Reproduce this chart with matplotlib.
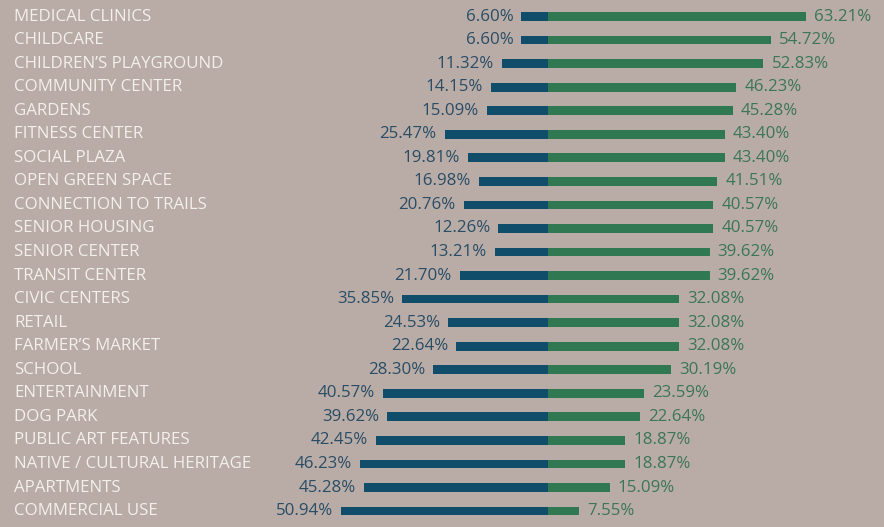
import matplotlib
matplotlib.use("Agg")
import matplotlib.pyplot as plt

categories = ["MEDICAL CLINICS", "CHILDCARE", "CHILDREN\u2019S PLAYGROUND", "COMMUNITY CENTER",
              "GARDENS", "FITNESS CENTER", "SOCIAL PLAZA", "OPEN GREEN SPACE",
              "CONNECTION TO TRAILS", "SENIOR HOUSING", "SENIOR CENTER", "TRANSIT CENTER",
              "CIVIC CENTERS", "RETAIL", "FARMER\u2019S MARKET", "SCHOOL", "ENTERTAINMENT",
              "DOG PARK", "PUBLIC ART FEATURES", "NATIVE / CULTURAL HERITAGE", "APARTMENTS",
              "COMMERCIAL USE"]
blue_values = [6.60, 6.60, 11.32, 14.15, 15.09, 25.47, 19.81, 16.98, 20.76, 12.26, 13.21,
               21.70, 35.85, 24.53, 22.64, 28.30, 40.57, 39.62, 42.45, 46.23, 45.28, 50.94]
green_values = [63.21, 54.72, 52.83, 46.23, 45.28, 43.40, 43.40, 41.51, 40.57, 40.57, 39.62,
                39.62, 32.08, 32.08, 32.08, 30.19, 23.59, 22.64, 18.87, 18.87, 15.09, 7.55]

BG = "#b9aca6"
BLUE = "#0f4d6b"
GREEN = "#2f7852"
BLUE_TXT = "#294d66"
GREEN_TXT = "#3b7658"
LABEL = "#f3efea"

W, H = 884, 527
fig = plt.figure(figsize=(W / 100, H / 100), dpi=100)
fig.patch.set_facecolor(BG)
ax = fig.add_axes([0, 0, 1, 1])
ax.set_facecolor(BG)

cx = 548.3
ppu = 4.07
y0 = 16.5
dy = 23.55
ax.set_xlim(-cx / ppu, (W - cx) / ppu)
ax.set_ylim((H - y0) / dy, -y0 / dy)
ax.axis("off")

font = ["Open Sans", "DejaVu Sans"]
ys = list(range(len(categories)))
ax.barh(ys, [-v for v in blue_values], height=0.37, color=BLUE, left=0)
ax.barh(ys, green_values, height=0.37, color=GREEN, left=0)

xlab = -(cx - 14) / ppu
for i, (c, b, g) in enumerate(zip(categories, blue_values, green_values)):
    ax.text(xlab, i, c, ha="left", va="center", color=LABEL, fontsize=12.2, family=font)
    ax.text(-b - 2.0, i, f"{b:.2f}%", ha="right", va="center", color=BLUE_TXT,
            fontsize=12.2, family=font)
    ax.text(g + 2.0, i, f"{g:.2f}%", ha="left", va="center", color=GREEN_TXT,
            fontsize=12.2, family=font)

fig.savefig("out.png", dpi=100, facecolor=BG)
